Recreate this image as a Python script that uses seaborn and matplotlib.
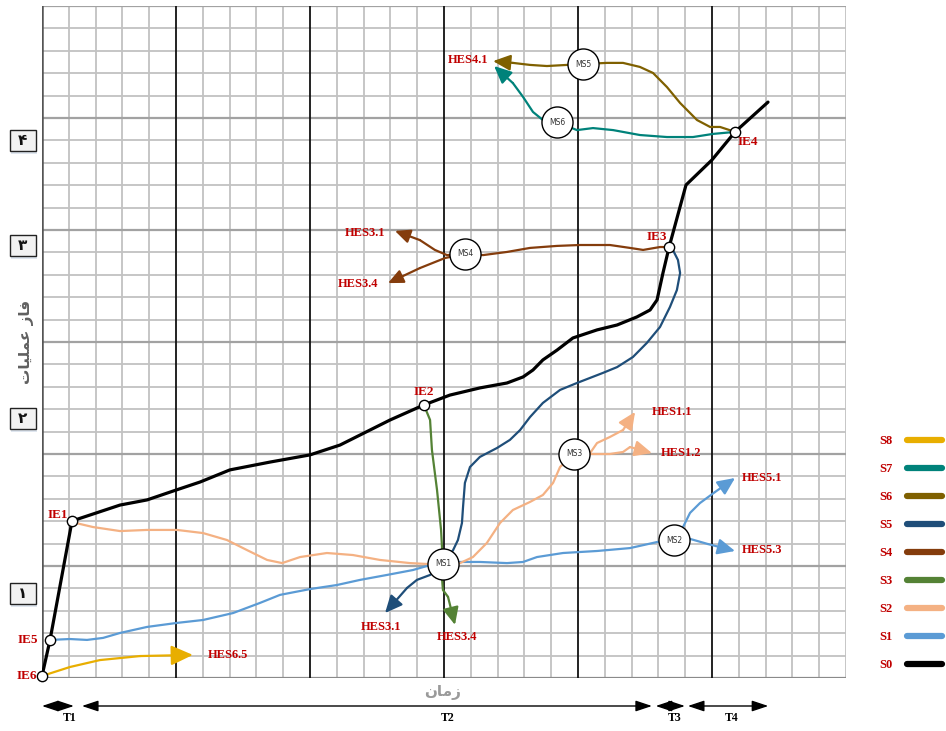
import numpy as np
import matplotlib
matplotlib.use('Agg')
from matplotlib import pyplot as plt
from matplotlib.lines import Line2D
from matplotlib.patches import Rectangle
from matplotlib.transforms import blended_transform_factory
import seaborn as sns

sns.set_style('white')
plt.rcParams['font.family'] = ['DejaVu Sans']

RED = '#C00000'

# ---- data, in grid cells (30 x 30), origin bottom-left ----
# S0 : main path through the IE points
s0_x = [0, 0.3, 1.12, 2.91, 3.92, 5.0, 5.9, 7.01, 8.51, 10.0, 11.12, 12.99, 14.25, 15.22, 16.34,
        17.35, 17.95, 18.32, 18.69, 19.22, 19.81, 20.71, 21.46, 22.2, 22.69, 22.95, 23.17,
        23.4, 24.03, 25.0, 25.86, 27.09]
s0_y = [0.09, 1.7, 7.01, 7.72, 7.95, 8.39, 8.75, 9.29, 9.64, 9.96, 10.4, 11.52, 12.19, 12.63,
        12.95, 13.17, 13.44, 13.75, 14.2, 14.64, 15.18, 15.54, 15.76, 16.12, 16.43, 16.88,
        18.08, 19.24, 22.01, 23.13, 24.38, 25.71]

# S1 : IE5 -> MS1 -> MS2, then to HES5.1 / HES5.3
s1_x = [0.3, 1.04, 1.68, 2.28, 2.91, 3.92, 5.04, 6.01, 7.13, 8.13, 8.88, 10.0, 11.0, 11.87,
        12.87, 13.84, 14.48, 14.96, 15.6, 16.34, 17.35, 17.95, 18.47, 19.44, 20.71, 21.94,
        22.95, 23.58]
s1_y = [1.7, 1.74, 1.7, 1.79, 2.01, 2.28, 2.46, 2.59, 2.9, 3.35, 3.71, 3.97, 4.15, 4.38,
        4.6, 4.82, 5.04, 5.09, 5.18, 5.18, 5.13, 5.18, 5.4, 5.58, 5.67, 5.8,
        6.07, 6.16]
s1a_x = [23.58, 23.92, 24.18, 24.55, 25.11, 25.86]
s1a_y = [6.16, 6.74, 7.37, 7.81, 8.3, 8.93]
s1b_x = [23.58, 24.18, 24.85, 25.86]
s1b_y = [6.16, 6.21, 5.98, 5.67]

# S2 : IE1 -> MS1 -> MS3, then to HES1.1 / HES1.2
s2_x = [1.12, 1.9, 2.91, 3.92, 5.04, 6.01, 6.9, 7.65, 8.4, 8.96, 9.63, 10.63, 11.6, 12.61,
        13.73, 14.37, 14.96, 15.6, 16.08, 16.6, 17.09, 17.57, 18.21, 18.69, 19.07, 19.33, 19.85]
s2_y = [6.96, 6.74, 6.56, 6.61, 6.61, 6.47, 6.16, 5.71, 5.27, 5.13, 5.4, 5.58, 5.49, 5.27,
        5.13, 5.09, 5.09, 5.13, 5.4, 6.03, 6.92, 7.5, 7.86, 8.17, 8.71, 9.42, 10.0]
s2a_x = [19.85, 20.45, 20.71, 21.19, 21.68, 22.13]
s2a_y = [10.0, 10.04, 10.49, 10.76, 11.07, 11.88]
s2b_x = [19.85, 20.45, 21.19, 21.68, 21.94, 22.76]
s2b_y = [10.0, 10.0, 10.0, 10.09, 10.31, 10.04]

# S3 : IE2 -> MS1 -> HES3.4
s3_x = [14.25, 14.48, 14.55, 14.74, 14.89, 14.96, 14.93, 14.96, 15.15, 15.41]
s3_y = [12.19, 11.52, 10.18, 8.39, 6.61, 5.09, 4.38, 3.93, 3.62, 2.37]

# S4 : IE3 -> MS4, then to HES3.1 / HES3.4
s4_x = [23.4, 23.06, 22.43, 21.94, 21.19, 20.07, 19.22, 18.21, 17.35, 16.46, 15.78]
s4_y = [19.24, 19.24, 19.11, 19.2, 19.33, 19.33, 19.29, 19.2, 19.02, 18.88, 18.93]
s4a_x = [15.78, 15.11, 14.66, 14.1, 13.17]
s4a_y = [18.93, 18.88, 19.11, 19.55, 19.96]
s4b_x = [15.78, 15.04, 14.1, 12.91]
s4b_y = [18.93, 18.75, 18.3, 17.63]

# S5 : IE3 -> MS1 -> HES3.1
s5_x = [23.4, 23.54, 23.73, 23.81, 23.69, 23.43, 23.06, 22.57, 22.05, 21.46, 20.93, 19.96,
        19.33, 18.69, 18.21, 17.84, 17.46, 16.98, 16.34, 15.97, 15.78, 15.71, 15.67, 15.52,
        15.34, 14.96, 14.48, 13.99, 13.62, 12.8]
s5_y = [19.24, 19.11, 18.66, 18.08, 17.32, 16.56, 15.67, 14.96, 14.33, 13.88, 13.62, 13.17,
        12.86, 12.28, 11.65, 11.07, 10.63, 10.27, 9.87, 9.42, 8.71, 7.63, 6.92, 6.16,
        5.71, 5.09, 4.6, 4.38, 4.02, 2.9]

# S6 : IE4 -> MS5 -> HES4.1
s6_x = [25.86, 25.3, 24.93, 24.44, 23.81, 23.32, 22.8, 22.31, 21.68, 21.08, 20.19, 19.59,
        18.84, 18.21, 17.57, 16.83]
s6_y = [24.38, 24.6, 24.6, 24.91, 25.67, 26.38, 27.01, 27.28, 27.46, 27.46, 27.41, 27.37,
        27.32, 27.37, 27.46, 27.54]

# S7 : IE4 -> MS6 -> HES4.1
s7_x = [25.86, 25.04, 24.29, 23.32, 22.31, 21.31, 20.56, 19.96, 19.22, 18.69, 18.32, 17.95,
        17.57, 16.87]
s7_y = [24.38, 24.29, 24.15, 24.15, 24.24, 24.46, 24.55, 24.46, 24.82, 24.91, 25.27, 25.94,
        26.56, 27.32]

# S8 : IE6 -> HES6.5
s8_x = [0, 1.04, 2.16, 3.66, 5.63]
s8_y = [0.09, 0.49, 0.8, 0.98, 1.03]

series_names = ['S8', 'S7', 'S6', 'S5', 'S4', 'S3', 'S2', 'S1', 'S0']
series_colors = ['#E8AE00', '#00827A', '#7F6000', '#1F4E79', '#843C0C',
                 '#548235', '#F4B183', '#5B9BD5', '#000000']
col = dict(zip(series_names, series_colors))

ie_names = ['IE6', 'IE5', 'IE1', 'IE2', 'IE3', 'IE4']
ie_x = [0, 0.3, 1.12, 14.25, 23.4, 25.86]
ie_y = [0.09, 1.7, 7.01, 12.19, 19.24, 24.38]

ms_names = ['MS1', 'MS2', 'MS3', 'MS4', 'MS5', 'MS6']
ms_x = [14.96, 23.58, 19.85, 15.78, 20.19, 19.22]
ms_y = [5.09, 6.16, 10.0, 18.93, 27.41, 24.82]

hes_names = ['HES6.5', 'HES3.1', 'HES3.4', 'HES5.1', 'HES5.3', 'HES1.1', 'HES1.2',
             'HES3.1', 'HES3.4', 'HES4.1']
hes_x = [6.94, 12.65, 15.49, 26.87, 26.87, 23.51, 23.84, 12.05, 11.79, 15.9]
hes_y = [1.03, 2.28, 1.83, 8.93, 5.71, 11.88, 10.04, 19.87, 17.59, 27.59]

phase_labels = ['۱', '۲', '۳', '۴']
phase_pos = [3.79, 11.6, 19.33, 24.0]

period_names = ['T1', 'T2', 'T3', 'T4']
period_start = [0.0, 1.49, 22.9, 24.1]
period_end = [1.19, 22.76, 23.99, 27.1]
period_label_x = [1.04, 15.15, 23.59, 25.75]

# ---- figure ----
fig = plt.figure(figsize=(9.46, 7.31), dpi=100)
ax = fig.add_axes([42 / 946, 53 / 731, 804 / 946, 672 / 731])
ax.set_xlim(0, 30)
ax.set_ylim(0, 30)
for sp in ax.spines.values():
    sp.set_visible(False)
ax.set_xticks([])
ax.set_yticks([])

# grid
for i in range(31):
    if i == 0:
        ax.axvline(i, color='#555555', lw=1.8, zorder=1)
    elif i % 5 == 0 and i < 30:
        ax.axvline(i, color='#111111', lw=1.3, zorder=1)
    else:
        ax.axvline(i, color='#c2c2c2', lw=1.3, zorder=0)
    if i == 0:
        ax.axhline(i, color='#8a8a8a', lw=1.6, zorder=1)
    elif i % 5 == 0:
        ax.axhline(i, color='#a2a2a2', lw=1.6, zorder=0.5)
    else:
        ax.axhline(i, color='#c2c2c2', lw=1.3, zorder=0)


def path(xs, ys, c, lw=1.6, head=None):
    if head is None:
        sns.lineplot(x=xs, y=ys, sort=False, estimator=None, color=c, lw=lw, ax=ax,
                     zorder=3, solid_capstyle='round', solid_joinstyle='round')
        return
    sns.lineplot(x=xs[:-1], y=ys[:-1], sort=False, estimator=None, color=c, lw=lw, ax=ax,
                 zorder=3, solid_capstyle='round', solid_joinstyle='round')
    ax.annotate('', xy=(xs[-1], ys[-1]), xytext=(xs[-2], ys[-2]), zorder=3,
                arrowprops=dict(arrowstyle='-|>,head_length=0.7,head_width=0.32',
                                mutation_scale=head, color=c, lw=lw,
                                shrinkA=0, shrinkB=0))


path(s0_x, s0_y, col['S0'], lw=2.3)
path(s1_x, s1_y, col['S1'])
path(s1a_x, s1a_y, col['S1'], head=15)
path(s1b_x, s1b_y, col['S1'], head=15)
path(s2_x, s2_y, col['S2'])
path(s2a_x, s2a_y, col['S2'], head=15)
path(s2b_x, s2b_y, col['S2'], head=15)
path(s3_x, s3_y, col['S3'], head=15)
path(s4_x, s4_y, col['S4'])
path(s4a_x, s4a_y, col['S4'], head=13)
path(s4b_x, s4b_y, col['S4'], head=13)
path(s5_x, s5_y, col['S5'], head=15)
path(s6_x, s6_y, col['S6'], head=15)
path(s7_x, s7_y, col['S7'], head=15)
path(s8_x, s8_y, col['S8'], head=19)

# milestone circles
sns.scatterplot(x=ms_x, y=ms_y, s=500, color='white', edgecolor='black', linewidth=1.0,
                ax=ax, zorder=5, clip_on=False)
for n, x, y in zip(ms_names, ms_x, ms_y):
    ax.text(x, y, n, ha='center', va='center', fontsize=5.5, color='#333333', zorder=6)

# IE nodes
sns.scatterplot(x=ie_x, y=ie_y, s=55, color='white', edgecolor='black', linewidth=1.0,
                ax=ax, zorder=6, clip_on=False)
ie_off = [(-3.5, 0), (-8.5, 0), (-3, 4.5), (0, 9), (-1.5, 7), (2, -7)]
ie_ha = ['right', 'right', 'right', 'center', 'right', 'left']
for n, x, y, off, ha in zip(ie_names, ie_x, ie_y, ie_off, ie_ha):
    ax.annotate(n, (x, y), xytext=off, textcoords='offset points', ha=ha, va='center',
                family='Liberation Serif', weight='bold', color=RED, fontsize=9.5,
                zorder=7, annotation_clip=False)

for n, x, y in zip(hes_names, hes_x, hes_y):
    ax.text(x, y, n, ha='center', va='center', family='Liberation Serif', weight='bold',
            color=RED, fontsize=9, zorder=7)

# phase boxes on the left
tr = blended_transform_factory(ax.transAxes, ax.transData)
for lab, pos in zip(phase_labels, phase_pos):
    ax.add_patch(Rectangle((-0.0385, pos - 0.62), 0.0323, 0.93, transform=tr,
                           fc='#dfe6ef', ec='none', clip_on=False, zorder=1))
    ax.add_patch(Rectangle((-0.0398, pos - 0.47), 0.0323, 0.93, transform=tr,
                           fc='#f2f2f2', ec='#222222', lw=1.0, clip_on=False, zorder=2))
    ax.text(-0.0237, pos, lab, transform=tr, ha='center', va='center', fontsize=11,
            weight='bold', color='#111111', zorder=3)

# axis titles (Persian, written in display order)
fig.text(27 / 946, 1 - 342 / 731, '\uFE95\uFE8E\uFEF4\uFEE0\uFEE4\uFECB \uFEAF\uFE8E\uFED3',
         rotation=90, ha='center', va='center', fontsize=11, weight='bold', color='#606060',
         family=['DejaVu Sans'])
fig.text(443 / 946, 1 - 693 / 731, '\uFEE5\uFE8E\uFEE3\uFEAF', ha='center', va='center',
         fontsize=11, weight='bold', color='#9a9a9a', family=['DejaVu Sans'])

# period arrows under the chart
for n, a, b, lx in zip(period_names, period_start, period_end, period_label_x):
    ax.annotate('', xy=(b, -1.25), xytext=(a, -1.25), annotation_clip=False,
                arrowprops=dict(arrowstyle='<|-|>,head_length=0.9,head_width=0.3',
                                mutation_scale=11, color='black', lw=1.0,
                                shrinkA=0, shrinkB=0))
    ax.text(lx, -1.8, n, ha='center', va='center', family='Liberation Serif',
            weight='bold', fontsize=8.5, color='black', clip_on=False)

# legend on the right
handles = [Line2D([], [], color=c, lw=4.5, solid_capstyle='round') for c in series_colors]
fig.legend(handles, series_names, loc='center left', bbox_to_anchor=(879 / 946, 1 - 553 / 731),
           frameon=False, markerfirst=False, handlelength=2.8, handletextpad=1.2,
           labelspacing=1.28, borderpad=0, borderaxespad=0, labelcolor=RED,
           prop=dict(family='Liberation Serif', weight='bold', size=9))

fig.savefig('out.png', dpi=100)
